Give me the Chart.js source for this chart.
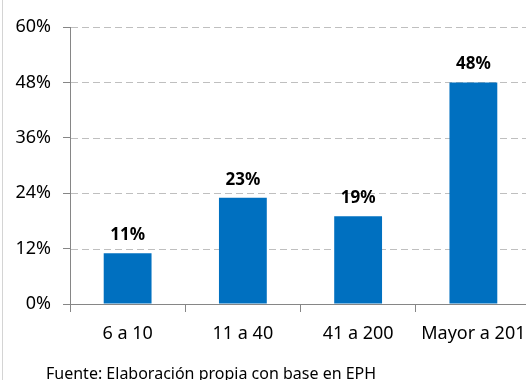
<!DOCTYPE html>
<html>
<head>
<meta charset="utf-8">
<script src="https://cdn.jsdelivr.net/npm/chart.js@4"></script>
<style>
  html, body { margin: 0; padding: 0; background: #fff; overflow: hidden; }
  #wrap { width: 526px; height: 380px; position: relative; overflow: hidden; }
  #myChart { position: absolute; left: 0; top: 0; }
  #foot {
    position: absolute; left: 46px; top: 362px; margin: 0;
    font: 16px 'Noto Sans', sans-serif; color: #000; white-space: nowrap;
  }
  #borde { position: absolute; left: 2px; top: 0; width: 1px; height: 380px; background: #d4d4d4; }
</style>
</head>
<body>
<div id="wrap">
  <canvas id="myChart" width="540" height="380"></canvas>
  <div id="borde"></div>
  <p id="foot"></p>
</div>
<script>
// datos del gráfico
const categorias = ["6 a 10", "11 a 40", "41 a 200", "Mayor a 201"];
const valores = [11, 23, 19, 48];
const yTicks = [0, 12, 24, 36, 48, 60];
const fuente = "Fuente: Elaboración propia con base en EPH";

const FONT = "'Noto Sans', sans-serif";
document.getElementById("foot").textContent = fuente;

// líneas de cuadrícula punteadas
const cuadricula = {
  id: "cuadricula",
  beforeDatasetsDraw(chart) {
    const { ctx, chartArea } = chart;
    const y = chart.scales.y;
    ctx.save();
    ctx.strokeStyle = "#bfbfbf";
    ctx.lineWidth = 1;
    ctx.setLineDash([7, 4]);
    y.ticks.forEach((t) => {
      if (t.value === 0) return;
      const py = Math.round(y.getPixelForValue(t.value)) + 0.5;
      ctx.beginPath();
      ctx.moveTo(chartArea.left + 1, py);
      ctx.lineTo(chartArea.right, py);
      ctx.stroke();
    });
    ctx.restore();
  },
};

// etiquetas de datos encima de las barras
const etiquetas = {
  id: "etiquetas",
  afterDatasetsDraw(chart) {
    const ctx = chart.ctx;
    const meta = chart.getDatasetMeta(0);
    ctx.save();
    ctx.fillStyle = "#000";
    ctx.font = "bold 17px " + FONT;
    ctx.textAlign = "center";
    ctx.textBaseline = "alphabetic";
    meta.data.forEach((bar, i) => {
      ctx.fillText(valores[i] + "%", bar.x, bar.y - 13);
    });
    ctx.restore();
  },
};

const ctx = document.getElementById("myChart").getContext("2d");
const myChart = new Chart(ctx, {
  type: "bar",
  data: {
    labels: categorias,
    datasets: [
      {
        data: valores,
        backgroundColor: "#0070c0",
        borderWidth: 0,
        categoryPercentage: 1,
        barPercentage: 0.415,
      },
    ],
  },
  options: {
    responsive: false,
    animation: false,
    layout: { padding: { top: 27, right: 9, left: 0, bottom: 0 } },
    plugins: {
      legend: { display: false },
      tooltip: { enabled: false },
    },
    scales: {
      x: {
        offset: true,
        grid: {
          display: true,
          offset: true,
          drawOnChartArea: false,
          tickLength: 8,
          color: "#868686",
        },
        border: { color: "#868686" },
        ticks: {
          color: "#000",
          font: { family: FONT, size: 18 },
          padding: 11,
          maxRotation: 0,
          autoSkip: false,
        },
        afterFit(scale) {
          scale.height = 76;
          scale.paddingLeft = 0;
          scale.paddingRight = 0;
        },
      },
      y: {
        min: 0,
        max: 60,
        afterBuildTicks(scale) {
          scale.ticks = yTicks.map((v) => ({ value: v }));
        },
        grid: {
          drawOnChartArea: false,
          color: "#868686",
          tickLength: 7,
        },
        border: { color: "#868686" },
        ticks: {
          color: "#000",
          font: { family: FONT, size: 18 },
          padding: 12,
          callback: (v) => v + "%",
        },
        afterFit(scale) {
          scale.width = 70;
        },
      },
    },
  },
  plugins: [cuadricula, etiquetas],
});
</script>
</body>
</html>
